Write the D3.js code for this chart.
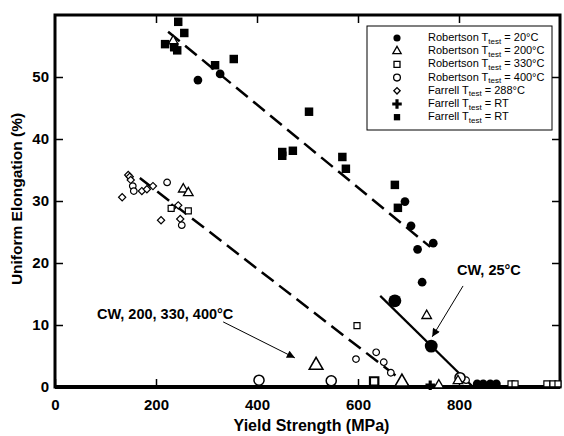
<!DOCTYPE html>
<html>
<head>
<meta charset="utf-8">
<script src="https://cdn.jsdelivr.net/npm/d3@7"></script>
<style>
  body { margin: 0; background: #fff; }
  text { font-family: "Liberation Sans", Arial, sans-serif; }
</style>
</head>
<body>
<div id="chart"></div>
<script>
// values: [yield strength MPa, uniform elongation %]
const robertson20 = [[283, 49.5], [327, 50.5], [693, 29.9], [705, 26.0], [749, 23.2], [718, 22.2], [727, 16.9], [836, 0.5], [848, 0.5], [862, 0.5], [874, 0.5]]
const robertson20Large = [[673, 13.9], [745, 6.6]]
const robertson200 = [[234, 55.8], [254, 31.9], [264, 31.3], [736, 11.5], [760, 0.3], [798, 1.0]]
const robertson200Large = [[517, 3.5], [687, 0.8]]
const robertson330 = [[230, 28.8], [264, 28.4], [598, 9.9], [903, 0.5], [911, 0.5], [974, 0.5], [986, 0.5], [996, 0.5]]
const robertson330Large = [[632, 0.9]]
const robertson400 = [[222, 33.0], [154, 32.4], [156, 31.6], [251, 26.1], [596, 4.5], [636, 5.6], [651, 4.0], [665, 2.3], [814, 1.1]]
const robertson400Large = [[404, 1.1], [547, 1.0], [802, 1.5]]
const farrell288 = [[133, 30.6], [145, 34.2], [148, 33.9], [150, 33.4], [172, 31.6], [182, 31.9], [194, 32.4], [210, 26.9], [232, 28.9], [244, 29.3], [248, 27.1]]
const farrellRTCross = [[743, 0.3]]
const farrellRTSquare = [[244, 58.9], [256, 57.1], [218, 55.3], [236, 54.8], [242, 54.3], [317, 51.9], [354, 52.9], [503, 44.4], [450, 37.9], [450, 37.3], [471, 38.1], [569, 37.1], [576, 35.2], [673, 32.6], [679, 28.9]]

const fitFarrell = [[224, 57.3], [743, 22.6]]
const fitCWHigh = [[168, 33.7], [699, 0.3]]
const fitCW25 = [[644, 14.7], [828, 0]]

const xTicks = [0, 200, 400, 600, 800]
const yTicks = [0, 10, 20, 30, 40, 50]

const legendLabels = [
  ['Robertson T', 'test', ' = 20°C'],
  ['Robertson T', 'test', ' = 200°C'],
  ['Robertson T', 'test', ' = 330°C'],
  ['Robertson T', 'test', ' = 400°C'],
  ['Farrell T', 'test', ' = 288°C'],
  ['Farrell T', 'test', ' = RT'],
  ['Farrell T', 'test', ' = RT']
]

// annotation: label, label position, arrow start, arrow end
const notes = [
  { text: 'CW, 200, 330, 400°C', at: [83, 11.0], from: [333, 10.5], to: [475, 4.7] },
  { text: 'CW, 25°C', at: [796, 18.1], from: [808, 16.3], to: [747, 8.1] }
]

const W = 564
const H = 436
const m = { top: 15, right: 4, bottom: 49, left: 55 }

const svg = d3.select('#chart').append('svg')
  .attr('width', W)
  .attr('height', H)

svg.append('defs').append('marker')
  .attr('id', 'head')
  .attr('viewBox', '0 0 10 10')
  .attr('refX', 10).attr('refY', 5)
  .attr('markerWidth', 14).attr('markerHeight', 8)
  .attr('markerUnits', 'userSpaceOnUse')
  .attr('orient', 'auto')
  .append('path')
  .attr('d', 'M0,0L10,5L0,10Z')
  .attr('fill', '#000')

const x = d3.scaleLinear().domain([0, 1000]).range([m.left, W - m.right])
const y = d3.scaleLinear().domain([0, 60]).range([H - m.bottom, m.top])

// ticks on all four sides, pointing inward
const fontTick = 15
svg.append('g')
  .attr('transform', `translate(0,${y(0)})`)
  .call(d3.axisBottom(x).tickValues(xTicks).tickSize(-8).tickPadding(12))
  .call(g => g.select('.domain').remove())
  .call(g => g.selectAll('line').attr('stroke-width', 1.5))
  .call(g => g.selectAll('text').attr('font-size', fontTick).attr('font-weight', 'bold').attr('fill', '#000'))

svg.append('g')
  .attr('transform', `translate(0,${y(60)})`)
  .call(d3.axisTop(x).tickValues(xTicks.slice(1)).tickSize(-8).tickFormat(''))
  .call(g => g.select('.domain').remove())
  .call(g => g.selectAll('line').attr('stroke-width', 1.5))

svg.append('g')
  .attr('transform', `translate(${x(0)},0)`)
  .call(d3.axisLeft(y).tickValues(yTicks).tickSize(-8).tickPadding(6))
  .call(g => g.select('.domain').remove())
  .call(g => g.selectAll('line').attr('stroke-width', 1.5))
  .call(g => g.selectAll('text').attr('font-size', fontTick).attr('font-weight', 'bold').attr('fill', '#000'))

svg.append('g')
  .attr('transform', `translate(${x(1000)},0)`)
  .call(d3.axisRight(y).tickValues(yTicks.slice(1)).tickSize(-8).tickFormat(''))
  .call(g => g.select('.domain').remove())
  .call(g => g.selectAll('line').attr('stroke-width', 1.5))

// frame
svg.append('rect')
  .attr('x', x(0)).attr('y', y(60))
  .attr('width', x(1000) - x(0)).attr('height', y(0) - y(60))
  .attr('fill', 'none').attr('stroke', '#000').attr('stroke-width', 3)
svg.append('line')
  .attr('x1', x(0)).attr('x2', x(1000))
  .attr('y1', y(0)).attr('y2', y(0))
  .attr('stroke', '#000').attr('stroke-width', 4)

// axis titles
svg.append('text')
  .attr('x', (x(0) + x(1000)) / 2 + 4).attr('y', 431)
  .attr('text-anchor', 'middle')
  .attr('font-size', 16).attr('font-weight', 'bold')
  .text('Yield Strength (MPa)')

svg.append('text')
  .attr('transform', `translate(22,${(y(0) + y(60)) / 2 - 2}) rotate(-90)`)
  .attr('text-anchor', 'middle')
  .attr('font-size', 15.5).attr('font-weight', 'bold')
  .text('Uniform Elongation (%)')

// trend lines
const line = d3.line().x(d => x(d[0])).y(d => y(d[1]))
svg.append('path').datum(fitFarrell).attr('d', line)
  .attr('stroke', '#000').attr('stroke-width', 2.5).attr('fill', 'none')
  .attr('stroke-dasharray', '15,7')
svg.append('path').datum(fitCWHigh).attr('d', line)
  .attr('stroke', '#000').attr('stroke-width', 2.5).attr('fill', 'none')
  .attr('stroke-dasharray', '15,7')
svg.append('path').datum(fitCW25).attr('d', line)
  .attr('stroke', '#000').attr('stroke-width', 2.2).attr('fill', 'none')

// markers
const shapes = {
  circle: d3.symbolCircle,
  triangle: d3.symbolTriangle,
  square: d3.symbolSquare,
  diamond: d3.symbolSquare,
  cross: d3.symbolCross
}

function drawSeries (data, shape, filled, size, sw) {
  svg.append('g').selectAll('path')
    .data(data)
    .join('path')
    .attr('transform', d => `translate(${x(d[0])},${y(d[1])})` + (shape === 'diamond' ? ' rotate(45)' : ''))
    .attr('d', d3.symbol().type(shapes[shape]).size(size))
    .attr('fill', filled ? '#000' : '#fff')
    .attr('stroke', '#000')
    .attr('stroke-width', sw)
}

drawSeries(farrell288, 'diamond', false, 26, 1.2)
drawSeries(robertson400, 'circle', false, 34, 1.2)
drawSeries(robertson400Large, 'circle', false, 80, 1.5)
drawSeries(robertson330, 'square', false, 36, 1.2)
drawSeries(robertson330Large, 'square', false, 70, 2.2)
drawSeries(robertson200, 'triangle', false, 40, 1.3)
drawSeries(robertson200Large, 'triangle', false, 80, 1.6)
drawSeries(farrellRTSquare, 'square', true, 72, 0)
drawSeries(farrellRTCross, 'cross', true, 50, 0)
drawSeries(robertson20, 'circle', true, 60, 0)
drawSeries(robertson20Large, 'circle', true, 130, 0)

// annotations
notes.forEach(n => {
  svg.append('text')
    .attr('x', x(n.at[0])).attr('y', y(n.at[1]))
    .attr('font-size', 14.5).attr('font-weight', 'bold')
    .text(n.text)
  svg.append('line')
    .attr('x1', x(n.from[0])).attr('y1', y(n.from[1]))
    .attr('x2', x(n.to[0])).attr('y2', y(n.to[1]))
    .attr('stroke', '#000').attr('stroke-width', 1)
    .attr('marker-end', 'url(#head)')
})

// legend
const lg = svg.append('g')
lg.append('rect')
  .attr('x', 367).attr('y', 26).attr('width', 185).attr('height', 104)
  .attr('fill', '#fff').attr('stroke', '#000').attr('stroke-width', 1)

const legendShapes = [
  ['circle', true, 40], ['triangle', false, 30], ['square', false, 36], ['circle', false, 36],
  ['diamond', false, 20], ['cross', true, 50], ['square', true, 40]
]

legendLabels.forEach((lab, i) => {
  const cy = 38 + i * 13.2
  const [shape, filled, size] = legendShapes[i]
  lg.append('path')
    .attr('transform', `translate(397,${cy})` + (shape === 'diamond' ? ' rotate(45)' : ''))
    .attr('d', d3.symbol().type(shapes[shape]).size(size))
    .attr('fill', filled ? '#000' : '#fff')
    .attr('stroke', '#000')
    .attr('stroke-width', filled ? 0 : 1.3)
  const t = lg.append('text')
    .attr('x', 428).attr('y', cy + 3)
    .attr('font-size', 11)
  t.append('tspan').text(lab[0])
  t.append('tspan').attr('font-size', 8).attr('dy', 2.5).text(lab[1])
  t.append('tspan').attr('dy', -2.5).text(lab[2])
})
</script>
</body>
</html>
